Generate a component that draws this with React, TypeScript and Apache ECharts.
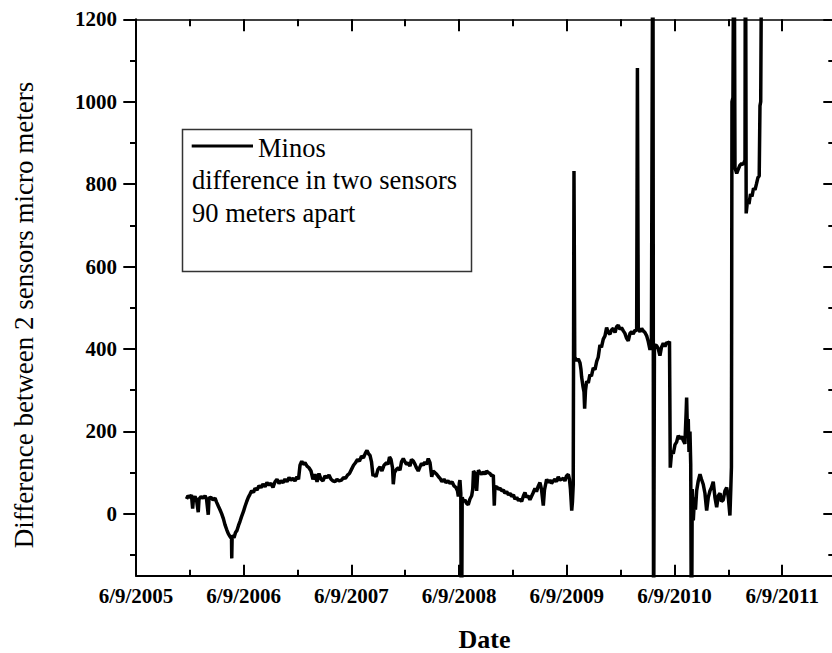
import React, { useEffect, useRef } from 'react';
import * as echarts from 'echarts';

// x = years since 6/9/2005, y = difference (micro meters)
const seg2005: [number, number][] = [
  [0.469, 36], [0.483, 44], [0.501, 40], [0.515, 46], [0.526, 13], [0.534, 38], [0.548, 42], [0.562, 34],
  [0.578, 4], [0.585, 36], [0.604, 42], [0.622, 38], [0.641, 44], [0.655, 36], [0.671, -2], [0.678, 38],
  [0.696, 40], [0.715, 34], [0.734, 38], [0.749, 28], [0.766, 18], [0.78, 10], [0.796, 0], [0.812, -12],
  [0.826, -26], [0.842, -38], [0.857, -48], [0.873, -55], [0.887, -60], [0.889, -108], [0.893, -52],
  [0.91, -58], [0.924, -45], [0.938, -40], [0.952, -28], [0.966, -18], [0.981, -6], [0.998, 6],
];
const seg2006: [number, number][] = [
  [1.012, 18], [1.028, 30], [1.043, 40], [1.059, 48], [1.074, 56], [1.091, 52], [1.105, 62], [1.124, 58],
  [1.142, 68], [1.161, 64], [1.179, 72], [1.198, 66], [1.216, 76], [1.235, 70], [1.253, 74], [1.272, 64],
  [1.291, 78], [1.309, 84], [1.328, 74], [1.346, 80], [1.365, 76], [1.383, 84], [1.402, 78], [1.421, 88],
  [1.439, 82], [1.458, 86], [1.476, 80], [1.495, 90], [1.509, 84], [1.523, 118], [1.539, 128], [1.551, 120],
  [1.569, 124], [1.588, 116], [1.606, 112], [1.625, 104], [1.643, 84], [1.662, 96], [1.681, 78], [1.699, 98],
  [1.718, 84], [1.736, 80], [1.755, 92], [1.773, 88], [1.792, 94], [1.811, 84], [1.829, 80], [1.848, 78],
  [1.866, 84], [1.885, 80], [1.908, 82], [1.927, 88], [1.945, 86], [1.964, 94], [1.982, 98],
];
const seg2007: [number, number][] = [
  [2.001, 108], [2.02, 118], [2.038, 124], [2.057, 132], [2.075, 128], [2.094, 140], [2.112, 136], [2.131, 148],
  [2.145, 154], [2.159, 146], [2.173, 142], [2.187, 126], [2.201, 92], [2.214, 96], [2.228, 90], [2.247, 108],
  [2.266, 114], [2.284, 104], [2.303, 118], [2.326, 124], [2.34, 120], [2.354, 138], [2.368, 132], [2.382, 112],
  [2.389, 72], [2.4, 100], [2.419, 108], [2.436, 112], [2.451, 106], [2.465, 126], [2.482, 134], [2.498, 126],
  [2.512, 120], [2.528, 124], [2.544, 116], [2.558, 132], [2.575, 128], [2.591, 120], [2.604, 112], [2.621, 104],
  [2.637, 114], [2.651, 122], [2.668, 118], [2.683, 126], [2.697, 120], [2.714, 134], [2.73, 124], [2.746, 90],
  [2.758, 104], [2.776, 100], [2.792, 96], [2.809, 90], [2.823, 86], [2.841, 78], [2.86, 84], [2.878, 76],
  [2.897, 80], [2.916, 74], [2.934, 78], [2.953, 68], [2.971, 64], [2.985, 56], [2.993, 42],
];
const seg2008: [number, number][] = [
  [3.002, 74], [3.008, 82], [3.016, 50], [3.022, -400], [3.029, 40], [3.041, 30], [3.055, 34], [3.069, 26],
  [3.085, 22], [3.101, 36], [3.117, 44], [3.127, 60], [3.134, 104], [3.148, 98], [3.163, 56], [3.171, 90],
  [3.18, 106], [3.194, 100], [3.21, 96], [3.225, 102], [3.241, 96], [3.256, 104], [3.271, 100], [3.287, 98],
  [3.303, 92], [3.318, 94], [3.327, 20], [3.333, 64], [3.349, 66], [3.366, 60], [3.38, 62], [3.396, 56],
  [3.412, 58], [3.426, 50], [3.442, 54], [3.459, 46], [3.473, 50], [3.488, 42], [3.505, 46], [3.519, 36],
  [3.535, 40], [3.552, 32], [3.566, 36], [3.581, 30], [3.598, 44], [3.612, 52], [3.626, 40], [3.64, 44],
  [3.658, 34], [3.672, 42], [3.686, 50], [3.705, 62], [3.719, 54], [3.733, 66], [3.751, 76], [3.765, 60],
  [3.782, 20], [3.793, 58], [3.813, 84], [3.83, 76], [3.844, 82], [3.858, 74], [3.875, 80], [3.89, 84],
  [3.904, 78], [3.921, 90], [3.937, 82], [3.951, 84], [3.968, 86], [3.983, 80], [3.997, 92],
];
const seg2009: [number, number][] = [
  [4.014, 96], [4.025, 84], [4.034, 60], [4.046, 8], [4.053, 30], [4.06, 70], [4.067, 832], [4.074, 380],
  [4.092, 372], [4.107, 376], [4.123, 366], [4.132, 350], [4.138, 332], [4.15, 310], [4.16, 296], [4.166, 255],
  [4.174, 300], [4.185, 322], [4.2, 318], [4.215, 338], [4.229, 334], [4.246, 354], [4.262, 350], [4.278, 370],
  [4.292, 380], [4.308, 410], [4.322, 404], [4.339, 424], [4.355, 432], [4.37, 452], [4.385, 440], [4.401, 436],
  [4.415, 446], [4.432, 450], [4.448, 440], [4.463, 454], [4.478, 458], [4.494, 448], [4.508, 452], [4.525, 444],
  [4.54, 438], [4.556, 426], [4.571, 420], [4.587, 438], [4.603, 442], [4.617, 436], [4.633, 446], [4.649, 444],
  [4.656, 1082], [4.664, 448], [4.68, 442], [4.695, 450], [4.71, 444], [4.726, 440], [4.742, 432], [4.757, 418],
  [4.773, 398], [4.786, 412], [4.8, 1600], [4.806, -400], [4.814, 410], [4.835, 408], [4.85, 400], [4.865, 384],
  [4.879, 404], [4.896, 414], [4.912, 406], [4.928, 416], [4.942, 414], [4.954, 418],
];
const seg2010: [number, number][] = [
  [4.961, 112], [4.974, 152], [4.989, 146], [5.005, 168], [5.02, 174], [5.035, 190], [5.051, 182], [5.067, 188],
  [5.082, 178], [5.097, 170], [5.109, 250], [5.113, 282], [5.121, 190], [5.128, 230], [5.135, 150], [5.144, 200],
  [5.151, 120], [5.158, -400], [5.165, 60], [5.175, -16], [5.186, 40], [5.195, 10], [5.206, 56], [5.221, 80],
  [5.237, 96], [5.251, 84], [5.267, 72], [5.283, 50], [5.299, 8], [5.314, 40], [5.33, 56], [5.344, 64],
  [5.36, 78], [5.376, 40], [5.392, 16], [5.407, 44], [5.423, 50], [5.436, 30], [5.453, 34], [5.469, 56],
  [5.485, 64], [5.5, 40], [5.515, -4], [5.523, 60], [5.529, 113], [5.534, 1000], [5.543, 1010], [5.553, 1600],
  [5.562, 840], [5.578, 826], [5.592, 836], [5.608, 846], [5.624, 850], [5.639, 848], [5.655, 858], [5.659, 1600],
  [5.666, 729], [5.678, 760], [5.692, 752], [5.706, 776], [5.72, 770], [5.734, 790], [5.748, 786], [5.761, 800],
  [5.775, 816], [5.787, 820], [5.794, 990], [5.801, 1000], [5.813, 1600],
];

const yearTicks = [0, 1, 2, 3, 4, 5, 6];
const yearHalfTicks = [0.5, 1.5, 2.5, 3.5, 4.5, 5.5];
const yearLabels = ['6/9/2005', '6/9/2006', '6/9/2007', '6/9/2008', '6/9/2009', '6/9/2010', '6/9/2011'];
const yMajorTicks = [0, 200, 400, 600, 800, 1000, 1200];
const yMinorTicks = [-100, 100, 300, 500, 700, 900, 1100];
const legendLines = ['Minos', 'difference in two sensors', '90 meters apart'];
const yTitle = 'Difference between 2 sensors micro meters';
const xTitle = 'Date';

const SERIF = "'Liberation Serif', 'Times New Roman', Times, 'DejaVu Serif', serif";

function xAx(position: 'top' | 'bottom', ticks: number[], len: number, showLine: boolean, lw: number, labels: boolean) {
  return {
    type: 'value', position, min: 0, max: 6.5, gridIndex: 0,
    axisLine: { show: showLine, onZero: false, lineStyle: { color: '#000', width: lw } },
    axisTick: { show: true, inside: true, length: len, customValues: ticks, lineStyle: { color: '#000', width: 2 } },
    axisLabel: labels
      ? {
          show: true, customValues: yearTicks, margin: 10, color: '#000', fontFamily: SERIF, fontWeight: 'bold', fontSize: 21,
          formatter: (v: number) => yearLabels[Math.round(v)] ?? '',
        }
      : { show: false },
    splitLine: { show: false },
  };
}

function yAx(position: 'left' | 'right', ticks: number[], len: number, inside: boolean, showLine: boolean, labels: boolean) {
  return {
    type: 'value', position, min: -150, max: 1200, gridIndex: 0,
    axisLine: { show: showLine, onZero: false, lineStyle: { color: '#000', width: 2 } },
    axisTick: { show: true, inside, length: len, customValues: ticks, lineStyle: { color: '#000', width: 2 } },
    axisLabel: labels
      ? {
          show: true, customValues: yMajorTicks, margin: 19, color: '#000', fontFamily: SERIF, fontWeight: 'bold', fontSize: 21,
          formatter: (v: number) => String(v),
        }
      : { show: false },
    splitLine: { show: false },
  };
}

export default function App() {
  const ref = useRef<HTMLDivElement>(null);
  useEffect(() => {
    const chart = echarts.init(ref.current!, null, { renderer: 'svg' });
    const data = [...seg2005, ...seg2006, ...seg2007, ...seg2008, ...seg2009, ...seg2010];
    chart.setOption({
      animation: false,
      backgroundColor: '#fff',
      textStyle: { fontFamily: SERIF },
      grid: { left: 136, top: 19.3, width: 700, height: 556.4, containLabel: false, outerBoundsMode: 'none' },
      xAxis: [
        xAx('bottom', yearTicks, 11, true, 2, true),
        xAx('bottom', yearHalfTicks, 6, false, 2, false),
        xAx('top', yearTicks, 12, true, 1.5, false),
        xAx('top', yearHalfTicks, 7, false, 1.5, false),
      ],
      yAxis: [
        yAx('left', yMajorTicks, 12.7, false, true, true),
        yAx('left', yMinorTicks, 6, false, false, false),
        yAx('right', yMajorTicks, 12.7, true, true, false),
        yAx('right', yMinorTicks, 7.7, true, false, false),
      ],
      series: [
        {
          type: 'line', name: 'Minos', xAxisIndex: 0, yAxisIndex: 0, data,
          showSymbol: false, symbol: 'none', clip: true,
          lineStyle: { color: '#000', width: 3.5 },
        },
      ],
      graphic: [
        { type: 'rect', z: 10, shape: { x: 182.5, y: 129.5, width: 289, height: 142 }, style: { fill: '#fff', stroke: '#333', lineWidth: 1.5 } },
        { type: 'line', z: 11, shape: { x1: 191.7, y1: 146, x2: 253, y2: 146 }, style: { stroke: '#000', lineWidth: 3 } },
        { type: 'text', z: 11, x: 258, y: 147.5, style: { text: legendLines[0], fontFamily: SERIF, fontSize: 26.5, fill: '#000', align: 'left', verticalAlign: 'middle' } },
        { type: 'text', z: 11, x: 192, y: 180, style: { text: legendLines[1], fontFamily: SERIF, fontSize: 26.5, fill: '#000', align: 'left', verticalAlign: 'middle' } },
        { type: 'text', z: 11, x: 192, y: 212.5, style: { text: legendLines[2], fontFamily: SERIF, fontSize: 26.5, fill: '#000', align: 'left', verticalAlign: 'middle' } },
        { type: 'text', z: 11, x: 24, y: 315, rotation: Math.PI / 2, style: { text: yTitle, fontFamily: SERIF, fontSize: 27, fill: '#000', align: 'center', verticalAlign: 'middle' } },
        { type: 'text', z: 11, x: 484.5, y: 639, style: { text: xTitle, fontFamily: SERIF, fontSize: 26, fontWeight: 'bold', fill: '#000', align: 'center', verticalAlign: 'middle' } },
      ],
    });
    return () => chart.dispose();
  }, []);
  return <div ref={ref} style={{ position: 'absolute', left: 0, top: 0, width: 832, height: 653, background: '#fff' }} />;
}
